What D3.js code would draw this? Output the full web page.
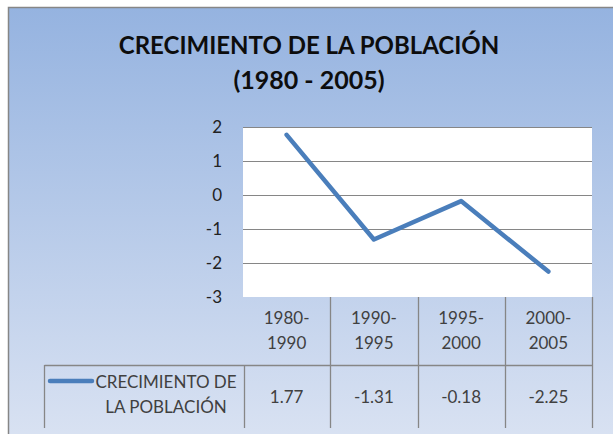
<!DOCTYPE html>
<html>
<head>
<meta charset="utf-8">
<script src="https://cdn.jsdelivr.net/npm/d3@7"></script>
<style>
body { margin:0; background:#fff; }
text { font-family: Lato, "Open Sans", sans-serif; }
</style>
</head>
<body>
<div id="main"></div>
<script>

var categories = ["1980-1990", "1990-1995", "1995-2000", "2000-2005"];
var values = [1.77, -1.31, -0.18, -2.25];
var valueLabels = ["1.77", "-1.31", "-0.18", "-2.25"];
var yTicks = [2, 1, 0, -1, -2, -3];
var seriesName = ["CRECIMIENTO DE", "LA POBLACIÓN"];
var titleLines = ["CRECIMIENTO DE LA POBLACIÓN", "(1980 - 2005)"];

var svg = d3.select('#main')
  .append('svg')
  .attr("width", 613)
  .attr("height", 434)

var grad = svg.append('defs').append('linearGradient')
  .attr("id", "bg")
  .attr("x1", 0).attr("y1", 0).attr("x2", 0).attr("y2", 1)
grad.append('stop').attr("offset", "0%").attr("stop-color", "#95b3e0")
grad.append('stop').attr("offset", "100%").attr("stop-color", "#dce4f3")

// chart frame (runs off right and bottom edge)
svg.append('rect')
  .attr("x", 8.5).attr("y", 7.5)
  .attr("width", 640).attr("height", 450)
  .style("fill", "url(#bg)")
  .style("stroke", "#868686")
  .style("stroke-width", 1.5)

svg.selectAll('.title')
  .data(titleLines)
  .enter()
  .append('text')
  .attr("class", "title")
  .attr("x", 309)
  .attr("y", (d,i)=> 54 + i*35)
  .attr("text-anchor", "middle")
  .style("font-size", (d,i)=> i==0 ? "24px" : "25px")
  .style("font-weight", "bold")
  .style("fill", "#0d0d0d")
  .text(d=>d)

var x = d3.scaleBand().domain(categories).range([243, 592]);
var y = d3.scaleLinear().domain([-3, 2]).range([297, 127]);

var g = svg.append('g')

g.append('rect')
  .attr("x", x.range()[0])
  .attr("y", y(2))
  .attr("width", x.range()[1] - x.range()[0])
  .attr("height", y(-3) - y(2))
  .style("fill", "#fff")

g.selectAll('.grid')
  .data(yTicks.filter(d=> d > -3))
  .enter()
  .append('line')
  .attr("class", "grid")
  .attr("x1", x.range()[0])
  .attr("x2", x.range()[1])
  .attr("y1", d=> Math.round(y(d)) + 0.5)
  .attr("y2", d=> Math.round(y(d)) + 0.5)
  .style("stroke", "#868686")
  .style("stroke-width", 1)

g.selectAll('.ytick')
  .data(yTicks)
  .enter()
  .append('text')
  .attr("class", "ytick")
  .attr("x", 222)
  .attr("y", d=> y(d) + 6)
  .attr("text-anchor", "end")
  .style("font-size", "17px")
  .style("fill", "#222")
  .text(d=>d)

// table lines
var tableTop = 365, tableBottom = 428;
var edges = categories.map(d=> x(d) + x.bandwidth());

g.selectAll('.vline')
  .data(edges)
  .enter()
  .append('line')
  .attr("class", "vline")
  .attr("x1", d=> Math.round(d) + 0.5)
  .attr("x2", d=> Math.round(d) + 0.5)
  .attr("y1", y(-3))
  .attr("y2", tableBottom)
  .style("stroke", "#868686")
  .style("stroke-width", 1.3)

g.append('line')
  .attr("x1", 44.5).attr("x2", x.range()[1])
  .attr("y1", tableTop + 0.5).attr("y2", tableTop + 0.5)
  .style("stroke", "#868686")
  .style("stroke-width", 1.3)

;[44, x.range()[0] + 1].forEach(function(xx){
  g.append('line')
    .attr("x1", xx + 0.5).attr("x2", xx + 0.5)
    .attr("y1", tableTop).attr("y2", tableBottom)
    .style("stroke", "#868686")
    .style("stroke-width", 1.3)
})

// category labels, two lines each
g.selectAll('.cat')
  .data(categories)
  .enter()
  .append('text')
  .attr("class", "cat")
  .attr("text-anchor", "middle")
  .style("font-size", "17px")
  .style("fill", "#404040")
  .each(function(d){
    var parts = d.split("-");
    var t = d3.select(this);
    t.append('tspan').attr("x", x(d) + x.bandwidth()/2).attr("y", 324).text(parts[0] + "-");
    t.append('tspan').attr("x", x(d) + x.bandwidth()/2).attr("y", 349).text(parts[1]);
  })

g.selectAll('.val')
  .data(values)
  .enter()
  .append('text')
  .attr("class", "val")
  .attr("x", (d,i)=> x(categories[i]) + x.bandwidth()/2)
  .attr("y", 403)
  .attr("text-anchor", "middle")
  .style("font-size", "17px")
  .style("fill", "#404040")
  .text((d,i)=> valueLabels[i])

// legend key in table
g.append('line')
  .attr("x1", 50).attr("x2", 92)
  .attr("y1", 381).attr("y2", 381)
  .style("stroke", "#4a7ebb")
  .style("stroke-width", 4.5)
  .style("stroke-linecap", "round")

g.selectAll('.leg')
  .data(seriesName)
  .enter()
  .append('text')
  .attr("class", "leg")
  .attr("x", 166)
  .attr("y", (d,i)=> 388 + i*25)
  .attr("text-anchor", "middle")
  .style("font-size", "17px")
  .style("fill", "#404040")
  .text(d=>d)

var line = d3.line()
  .x((d,i)=> x(categories[i]) + x.bandwidth()/2)
  .y(d=> y(d))

g.append('path')
  .datum(values)
  .attr("d", line)
  .style("fill", "none")
  .style("stroke", "#4a7ebb")
  .style("stroke-width", 4.5)
  .style("stroke-linejoin", "round")
  .style("stroke-linecap", "round")

</script>
</body>
</html>
